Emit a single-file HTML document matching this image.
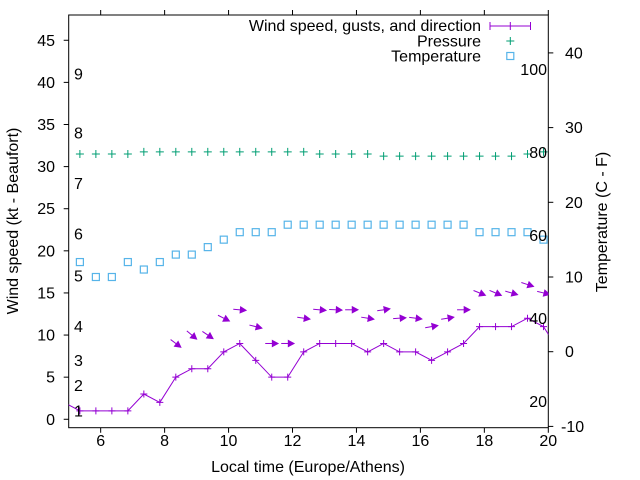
<!DOCTYPE html>
<html><head><meta charset="utf-8"><style>
html,body{margin:0;padding:0;background:#fff}
svg{display:block;font-family:"Liberation Sans",sans-serif}
</style></head><body>
<svg id="chart" width="640" height="480" viewBox="0 0 640 480" xmlns="http://www.w3.org/2000/svg">
<defs><clipPath id="plotclip"><rect x="68.7" y="15" width="479.6" height="412"/></clipPath></defs>
<rect x="0" y="0" width="640" height="480" fill="#fff"/>
<g id="axes"></g>
<g id="marks" clip-path="url(#plotclip)"></g>
<g id="labels"></g>
<g id="legend">
<text x="481" y="31" font-size="16" text-anchor="end">Wind speed, gusts, and direction</text>
<line x1="490" y1="26" x2="530.5" y2="26" stroke="#9400d3" stroke-width="1"/>
<path d="M490,22V30M510.3,22V30M530.5,22V30M506.5,26H514" stroke="#9400d3" stroke-width="1"/>
<text x="481" y="46.5" font-size="16" text-anchor="end">Pressure</text>
<path d="M506.3,41H514.3M510.3,37V45" stroke="#009e73" stroke-width="1"/>
<text x="481" y="61.5" font-size="16" text-anchor="end">Temperature</text>
<rect x="506.8" y="52.5" width="7" height="7" fill="none" stroke="#56b4e9" stroke-width="1.2"/>
</g>
</svg>
<script>
// ---- data ----
const times = [4.85,5.35,5.85,6.35,6.85,7.35,7.85,8.35,8.85,9.35,9.85,10.35,10.85,11.35,11.85,12.35,12.85,13.35,13.85,14.35,14.85,15.35,15.85,16.35,16.85,17.35,17.85,18.35,18.85,19.35,19.85,20.35];
const windSpeed = [2,1,1,1,1,3,2,5,6,6,8,9,7,5,5,8,9,9,9,8,9,8,8,7,8,9,11,11,11,12,11,8];
const pressure = [null,1015.5,1015.5,1015.5,1015.5,1015.75,1015.75,1015.75,1015.75,1015.75,1015.75,1015.75,1015.75,1015.75,1015.75,1015.75,1015.5,1015.5,1015.5,1015.5,1015.25,1015.25,1015.25,1015.25,1015.25,1015.25,1015.25,1015.25,1015.25,1015.5,1015.75,null];
const temperature = [null,12,10,10,12,11,12,13,13,14,15,16,16,16,17,17,17,17,17,17,17,17,17,17,17,17,16,16,16,16,15,null];
const gusts = [null,null,null,null,null,null,null,9,10,10,12,13,11,9,9,12,13,13,13,12,13,12,12,11,12,13,15,15,15,16,15,null];
const windDir = [null,null,null,null,null,null,null,37,40,34,27,5,14,0,0,8,5,3,0,9,-9,-4,7,-10,-9,0,22,23,16,18,14,null];
const xTicks = [6,8,10,12,14,16,18,20];
const yTicks = [0,5,10,15,20,25,30,35,40,45];
const y2Ticks = [-10,0,10,20,30,40];
const beaufortKt = [1,4,7,11,17,22,28,34,41];
const beaufortLabels = ["1","2","3","4","5","6","7","8","9"];
const fahrenheit = [20,40,60,80,100];
const pressureOffset = 984;

// ---- scales ----
const X0=68.7, X1=548.3, YT=15, YB=427.7;
const xS = t => X0 + (t-5)/(20-5)*(X1-X0);
const yS = v => YB - (v-(-1))/(48-(-1))*(YB-YT);
const y2S = c => 351.7 - c*7.47;
const NS="http://www.w3.org/2000/svg";
const FS=16;
function mk(tag, attrs, parent){const e=document.createElementNS(NS,tag);for(const k in attrs)e.setAttribute(k,attrs[k]);parent.appendChild(e);return e;}
const axes=document.getElementById('axes'), marks=document.getElementById('marks'), labels=document.getElementById('labels');

let fr=mk('rect',{x:X0,y:YT,width:X1-X0,height:YB-YT,fill:'none',stroke:'#000','stroke-width':1},axes);



xTicks.forEach(t=>{
  const x=xS(t);
  let l=mk('path',{d:`M${x},${YB}v5M${x},${YT}v-5`,stroke:'#000','stroke-width':1},axes);
  
  
  let tx=mk('text',{x:x,y:YB+18.5,'font-size':FS,'text-anchor':'middle'},labels);
  tx.textContent=t;
  
  
});
yTicks.forEach(v=>{
  const y=yS(v);
  let l=mk('path',{d:`M${X0},${y}h-5`,stroke:'#000','stroke-width':1},axes);
  
  
  let tx=mk('text',{x:55,y:y+5.5,'font-size':FS,'text-anchor':'end'},labels);
  tx.textContent=v;
  
  
});
y2Ticks.forEach(c=>{
  const y=y2S(c);
  let l=mk('path',{d:`M${X1},${y}h5`,stroke:'#000','stroke-width':1},axes);
  
  
  let tx=mk('text',{x:c<0?561:565,y:y+5.5,'font-size':FS,'text-anchor':'start'},labels);
  tx.textContent=c;
  
  
});
beaufortKt.forEach((k,i)=>{
  let tx=mk('text',{x:74,y:yS(k)+5.5,'font-size':FS},labels);
  tx.textContent=beaufortLabels[i];
  
  
});
fahrenheit.forEach(f=>{
  let tx=mk('text',{x:547,y:y2S((f-32)*5/9)+5.5,'font-size':FS,'text-anchor':'end'},labels);
  tx.textContent=f;
  
  
});
let xt=mk('text',{x:308,y:472,'font-size':FS,'text-anchor':'middle'},labels);
xt.textContent='Local time (Europe/Athens)';


let yt=mk('text',{x:0,y:0,'font-size':FS,'text-anchor':'middle',transform:'translate(18,221) rotate(-90)'},labels);
yt.textContent='Wind speed (kt - Beaufort)';


let y2t=mk('text',{x:0,y:0,'font-size':FS,'text-anchor':'middle',transform:'translate(607,222) rotate(-90)'},labels);
y2t.textContent='Temperature (C - F)';



pressure.forEach((p,i)=>{
  if(p===null)return;
  const x=xS(times[i]), y=yS(p-pressureOffset);
  let m=mk('path',{d:`M${x-4},${y}h8M${x},${y-4}v8`,stroke:'#009e73','stroke-width':1},marks);
  
  
});
temperature.forEach((c,i)=>{
  if(c===null)return;
  const x=xS(times[i]), y=y2S(c);
  let m=mk('rect',{x:x-3.5,y:y-3.5,width:7,height:7,fill:'none',stroke:'#56b4e9','stroke-width':1.2},marks);
  
  
});
let d='';
windSpeed.forEach((w,i)=>{d+=(i?'L':'M')+xS(times[i])+','+yS(w);});
let wl=mk('path',{d:d,fill:'none',stroke:'#9400d3','stroke-width':1},marks);


windSpeed.forEach((w,i)=>{
  const x=xS(times[i]), y=yS(w);
  let m=mk('path',{d:`M${x-3.5},${y}h7M${x},${y-3.5}v7`,stroke:'#9400d3','stroke-width':1},marks);
  
  
});
gusts.forEach((g,i)=>{
  if(g===null)return;
  const cx=xS(times[i]), cy=yS(g), a=windDir[i]*Math.PI/180, L=13;
  const dx=Math.cos(a), dy=Math.sin(a);
  const x1=cx-dx*L/2, y1=cy-dy*L/2, x2=cx+dx*L/2, y2=cy+dy*L/2;
  const h=6, w=3.2;
  const bx=x2-dx*h, by=y2-dy*h;
  let gEl=mk('g',{},marks);
  
  
  mk('line',{x1:x1,y1:y1,x2:bx,y2:by,stroke:'#9400d3','stroke-width':1},gEl);
  mk('path',{d:`M${x2},${y2}L${bx-dy*w},${by+dx*w}L${bx+dy*w},${by-dx*w}Z`,fill:'#9400d3',stroke:'#9400d3','stroke-width':0.8},gEl);
});
</script>
</body></html>
